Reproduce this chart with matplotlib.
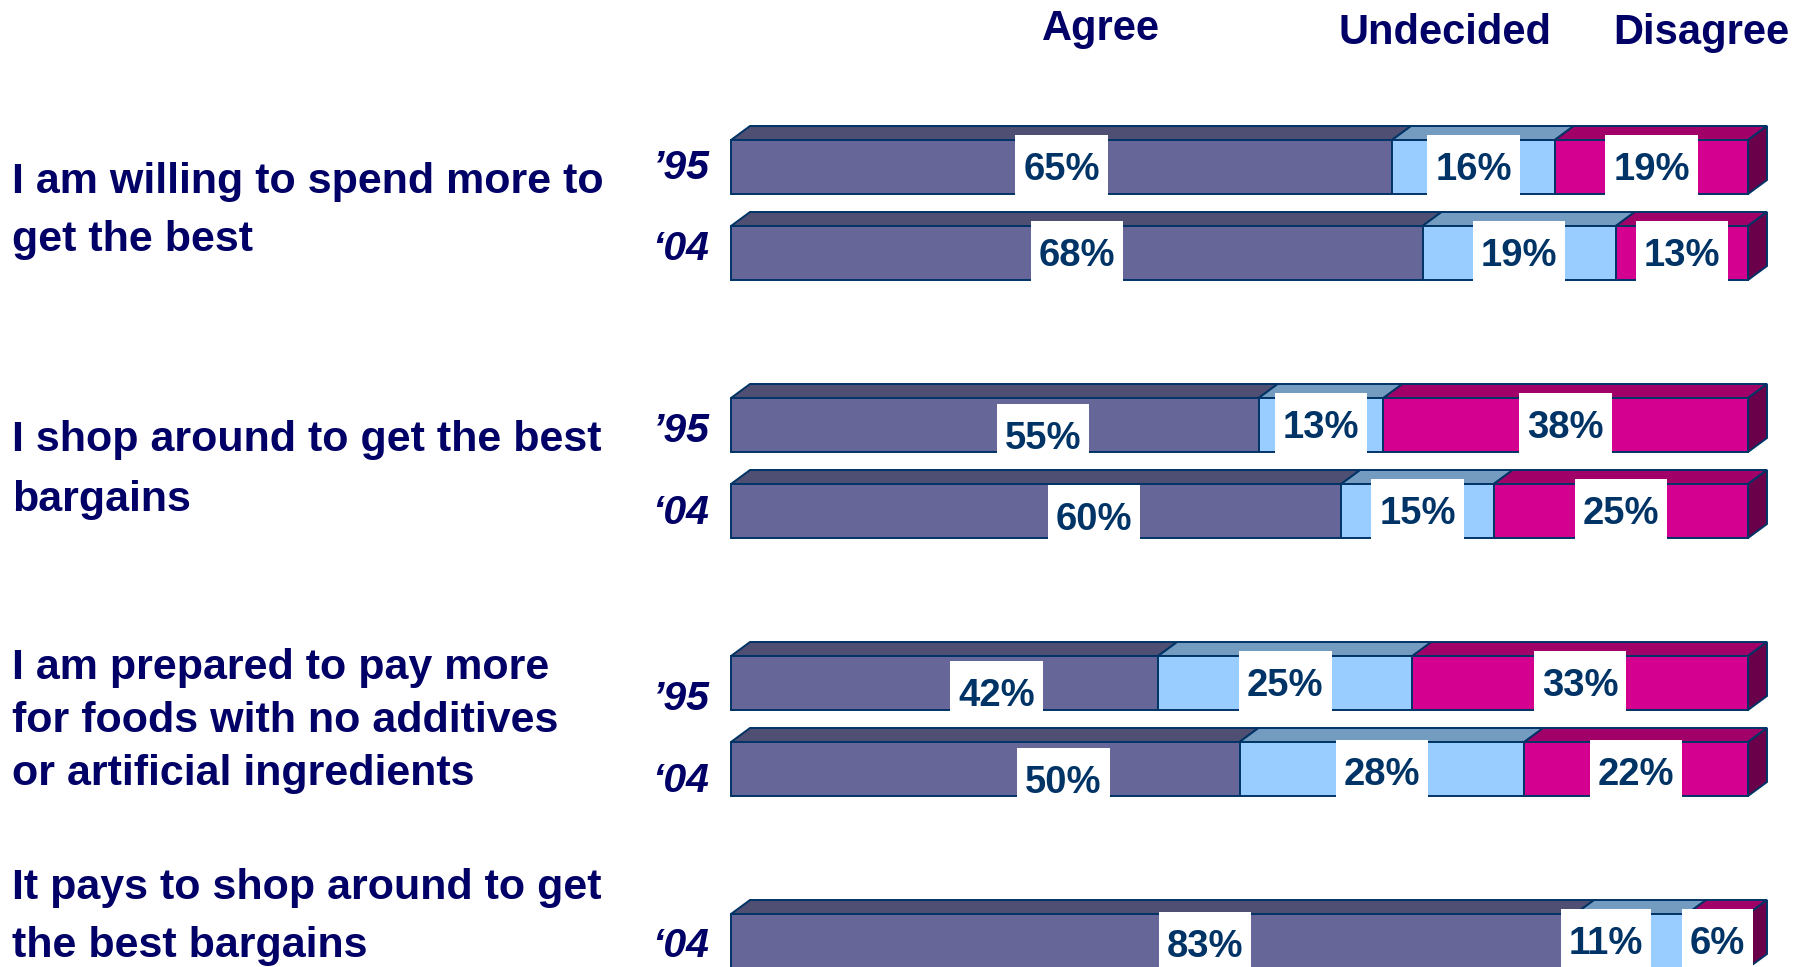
import numpy as np
import matplotlib.pyplot as plt
from matplotlib.patches import Polygon, Rectangle

plt.rcParams['font.family'] = ['Liberation Sans', 'DejaVu Sans']

# survey results, one entry per bar (top to bottom)
statements = [
    ["I am willing to spend more to", "get the best"],
    ["I shop around to get the best", "bargains"],
    ["I am prepared to pay more", "for foods with no additives", "or artificial ingredients"],
    ["It pays to shop around to get", "the best bargains"],
]
row_group = [0, 0, 1, 1, 2, 2, 3]
row_in_group = [0, 1, 0, 1, 0, 1, 0]
years = ["\u201995", "\u201804", "\u201995", "\u201804", "\u201995", "\u201804", "\u201804"]
agree = [65, 68, 55, 60, 42, 50, 83]
undecided = [16, 19, 13, 15, 25, 28, 11]
disagree = [19, 13, 38, 25, 33, 22, 6]
headers = ["Agree", "Undecided", "Disagree"]

# layout (pixels)
W, H = 1813, 967
bar_x0, bar_w = 731, 1017
first_bar_center, slot_px = 167, 86
bar_h_px, depth_dx_px, depth_dy_px = 54, 19, 14
label_dx = [[0, 0, 0], [0, 0, 0], [48, 0, 0], [58, 0, 0], [52, 0, 0], [78, 0, 0], [52, -25, 0]]
label_dy = [[0, 0, 0], [0, 0, 0], [11, 0, 0], [6, 0, 0], [10, 0, 0], [11, 3, 3], [3, 0, 0]]
year_dy = [1, -4, 6, 2, 16, 12, 5]
text_centers = [211, 470, 721, 917]
text_pitch = [58, 59, 53, 58]
header_pos = [(1101, 29), (1445, 33), (1701, 33)]

front_cols = ["#666699", "#99ccff", "#d4008f"]
top_cols = ["#4f4f73", "#739cc0", "#a00068"]
side_col = "#6b004a"
edge_col = "#003366"
navy = "#000066"

fig = plt.figure(figsize=(W / 100, H / 100), dpi=100)
ax = fig.add_axes([bar_x0 / W, 0, bar_w / W, 1])
px_x = bar_w / 100.0
ax.set_xlim(0, 100)
ax.set_ylim((H - first_bar_center) / slot_px, -first_bar_center / slot_px)
ax.axis('off')

bh = bar_h_px / slot_px
ddx = depth_dx_px / px_x
ddy = depth_dy_px / slot_px

value_labels = []
for i in range(len(agree)):
    s = 3 * row_group[i] + row_in_group[i]
    vals = np.array([agree[i], undecided[i], disagree[i]], dtype=float)
    widths = vals / vals.sum() * 100
    lefts = np.concatenate([[0], np.cumsum(widths)[:-1]])
    top = s - bh / 2
    bot = s + bh / 2
    for k in range(3):
        l, w = lefts[k], widths[k]
        ax.add_patch(Polygon([(l, top), (l + w, top), (l + w + ddx, top - ddy), (l + ddx, top - ddy)],
                             closed=True, fc=top_cols[k], ec=edge_col, lw=1.4, clip_on=False, zorder=2))
        ax.barh(s, w, left=l, height=bh, color=front_cols[k], edgecolor=edge_col, lw=1.4,
                clip_on=False, zorder=3)
    end = lefts[-1] + widths[-1]
    ax.add_patch(Polygon([(end, top), (end + ddx, top - ddy), (end + ddx, bot - ddy), (end, bot)],
                         closed=True, fc=side_col, ec=edge_col, lw=1.4, clip_on=False, zorder=2))

    # value labels (white boxes added once text sizes are known)
    for k in range(3):
        cx = lefts[k] + widths[k] / 2 + label_dx[i][k] / px_x
        cy = s + (3 + label_dy[i][k]) / slot_px
        t = ax.text(cx, cy, f"{int(vals[k])}%", ha='center', va='center', fontsize=27.5,
                    fontweight='bold', color=edge_col, zorder=5)
        value_labels.append((t, cx, cy))

    ax.text(-2.2, s + year_dy[i] / slot_px, years[i], ha='right', va='center', fontsize=29.5,
            fontweight='bold', fontstyle='italic', color=navy)

fig.canvas.draw()
renderer = fig.canvas.get_renderer()
for t, cx, cy in value_labels:
    bb = t.get_window_extent(renderer)
    half_w = (bb.width / 2 + 8) / px_x
    ax.add_patch(Rectangle((cx - half_w, cy - 35 / slot_px), 2 * half_w, 65 / slot_px,
                           fc='white', ec='none', zorder=4, clip_on=False))

# statements on the left
for g, lines in enumerate(statements):
    n = len(lines)
    for j, line in enumerate(lines):
        y = text_centers[g] + (j - (n - 1) / 2) * text_pitch[g]
        fig.text(12 / W, 1 - y / H, line, ha='left', va='center', fontsize=31,
                 fontweight='bold', color=navy)

for name, (x, y) in zip(headers, header_pos):
    fig.text(x / W, 1 - y / H, name, ha='center', va='center', fontsize=30,
             fontweight='bold', color=navy)

fig.savefig("out.png", dpi=100)
